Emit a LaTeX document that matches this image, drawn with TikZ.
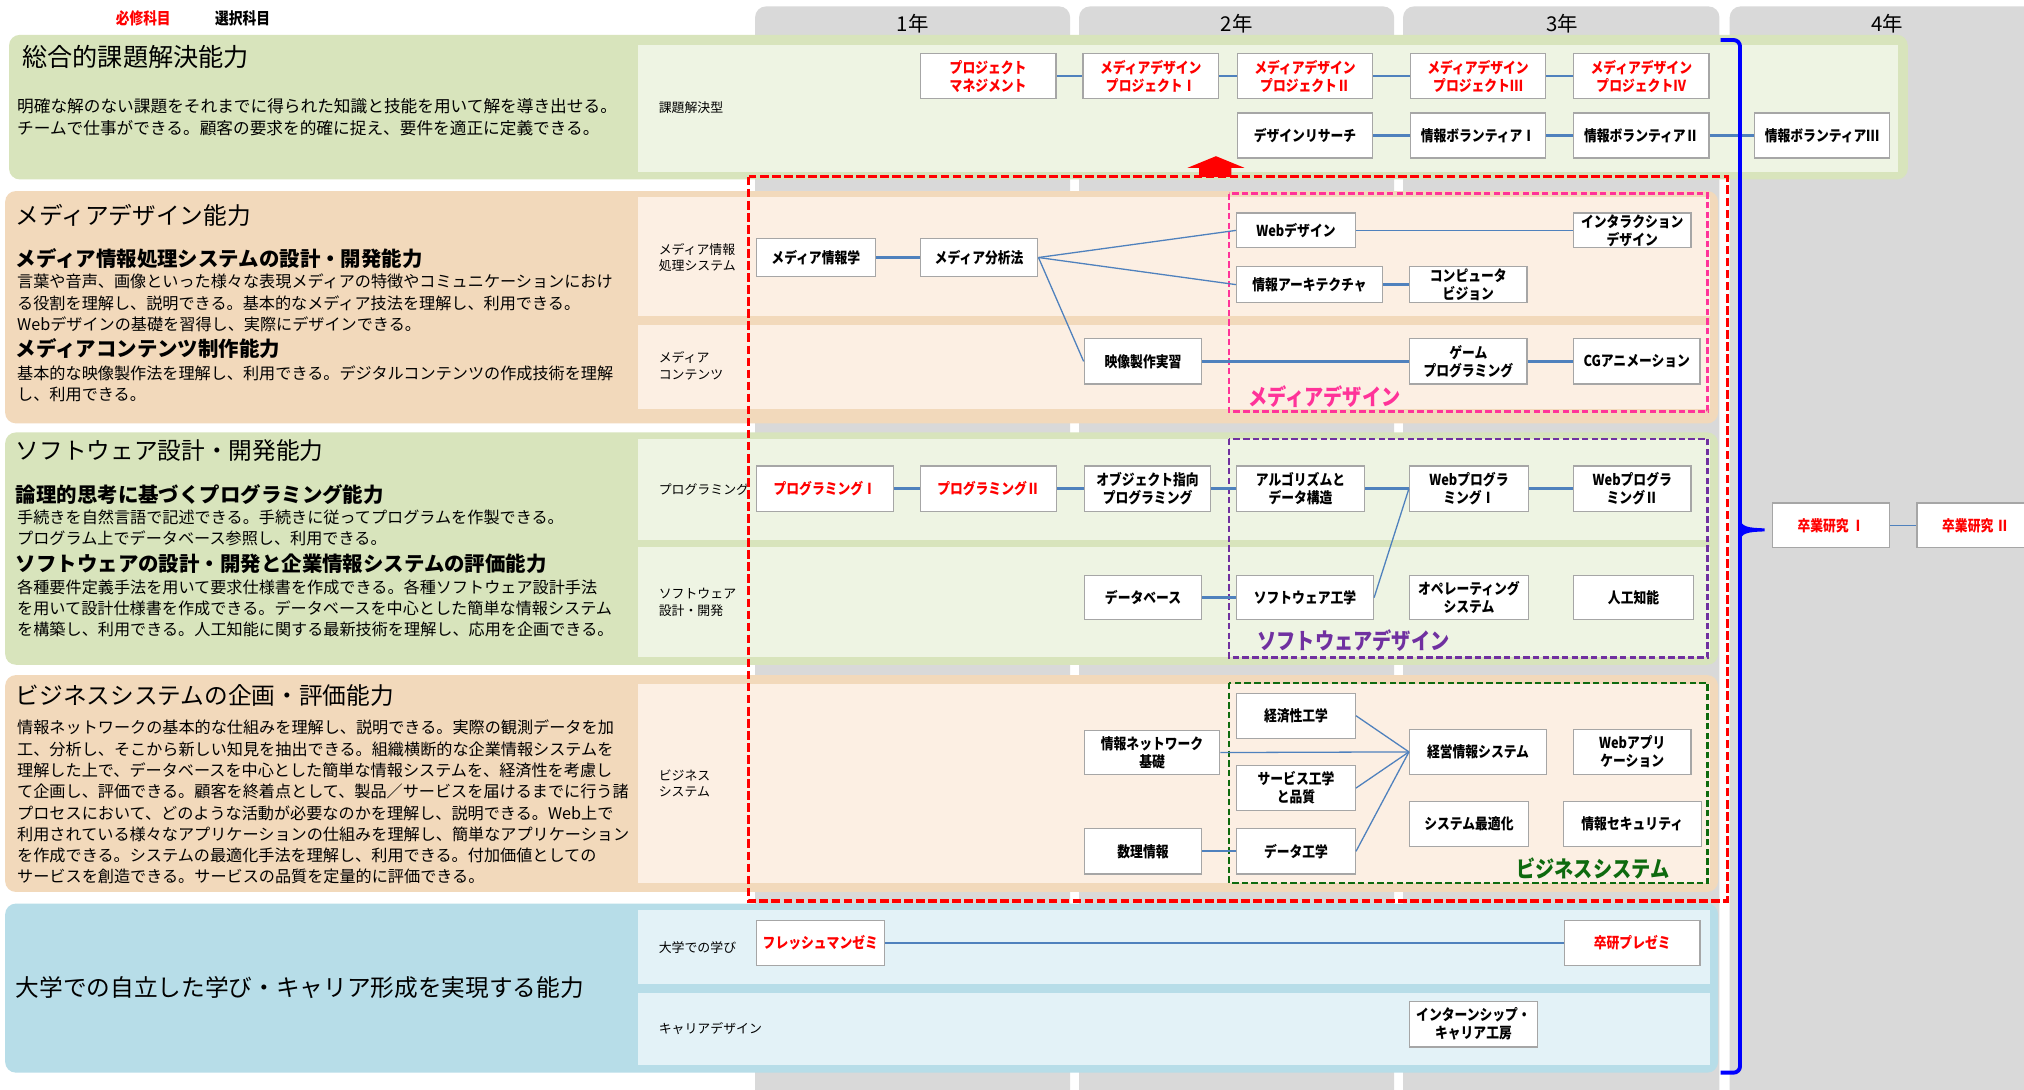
\documentclass[tikz,border=0pt]{standalone}
\usepackage{fontspec}
\setmainfont{Noto Sans CJK JP}
\newfontfamily\boxfont{Noto Sans CJK JP}[FakeStretch=0.85]
\definecolor{colgray}{HTML}{D9D9D9}
\definecolor{bandgreen}{HTML}{D8E4BC}
\definecolor{bandpeach}{HTML}{F2D9BB}
\definecolor{bandblue}{HTML}{B7DDE8}
\definecolor{subgreen}{HTML}{EEF4E3}
\definecolor{subpeach}{HTML}{FCEFE3}
\definecolor{subblue}{HTML}{E3F2F7}
\definecolor{linkblue}{HTML}{4F81BD}
\definecolor{boxgray}{HTML}{A6A6A6}
\definecolor{mdpink}{HTML}{FF3399}
\definecolor{swpurple}{HTML}{7030A0}
\definecolor{bsgreen}{HTML}{0E6A0E}
\definecolor{reqred}{HTML}{FF0000}
\definecolor{brblue}{HTML}{0000FF}
\begin{document}
\begin{tikzpicture}[x=0.6pt,y=-0.6pt,
  course/.style={draw=boxgray, line width=0.6pt, fill=white, inner sep=0pt, align=center,
     font=\boxfont\bfseries\fontsize{7}{8.4}\selectfont},
  req/.style={course, text=reqred},
  sz/.style 2 args={minimum width={#1*0.6pt}, minimum height={#2*0.6pt}},
  link/.style={draw=linkblue, line width=1.1pt},
  thinlink/.style={draw=linkblue, line width=0.6pt},
  bandtitle/.style={anchor=west, inner sep=0pt, font=\fontsize{11}{13}\selectfont},
  subtitle/.style={anchor=west, inner sep=0pt, font=\bfseries\fontsize{9.5}{11}\selectfont},
  desc/.style={anchor=west, inner sep=0pt, align=left, font=\fontsize{7.5}{9.9}\selectfont},
  sublabel/.style={anchor=west, inner sep=0pt, align=left, font=\fontsize{6}{7.8}\selectfont},
  yearlabel/.style={inner sep=0pt, font=\fontsize{9.5}{11}\selectfont},
  grouplabel/.style={inner sep=0pt, font=\boxfont\bfseries\fontsize{10.5}{12}\selectfont},
  groupbox/.style={line width=1.2pt, dash pattern=on 3pt off 1.5pt},
]
\useasboundingbox (0,0) rectangle (1568,844);
\fill[white] (0,0) rectangle (1568,844);
% year columns
\fill[colgray, rounded corners=5pt] (585,5) rectangle (829,860);
\fill[colgray, rounded corners=5pt] (836,5) rectangle (1080,860);
\fill[colgray, rounded corners=5pt] (1087,5) rectangle (1332,860);
\fill[colgray, rounded corners=5pt] (1340,5) rectangle (1600,860);
\node[yearlabel] (y1) at (707,18) {1年};
\node[yearlabel] (y2) at (958,18) {2年};
\node[yearlabel] (y3) at (1210,18) {3年};
\node[yearlabel] (y4) at (1462,18) {4年};
% legend
\node[inner sep=0pt, text=reqred, font=\boxfont\bfseries\fontsize{7.5}{9}\selectfont] (legreq) at (111,14) {必修科目};
\node[inner sep=0pt, font=\boxfont\bfseries\fontsize{7.5}{9}\selectfont] (legsel) at (188,14) {選択科目};
% bands
\fill[bandgreen, rounded corners=5pt] (7,27) rectangle (1478,139);
\fill[bandpeach, rounded corners=5pt] (4,148) rectangle (1331,328);
\fill[bandgreen, rounded corners=5pt] (4,335) rectangle (1331,515);
\fill[bandpeach, rounded corners=5pt] (4,523) rectangle (1331,691);
\fill[bandblue, rounded corners=5pt] (4,700) rectangle (1331,831);
% sub-bands
\fill[subgreen] (494,35) rectangle (1470,133);
\fill[subpeach] (494,153) rectangle (1325,245);
\fill[subpeach] (494,252) rectangle (1325,317);
\fill[subgreen] (494,340) rectangle (1325,418);
\fill[subgreen] (494,424) rectangle (1325,509);
\fill[subpeach] (494,530) rectangle (1325,684);
\fill[subblue] (494,705) rectangle (1325,762);
\fill[subblue] (494,769) rectangle (1325,825);
% sub-band labels
\node[sublabel] (lb1) at (510,83) {課題解決型};
\node[sublabel] (lb2) at (510,199.5) {メディア情報\\処理システム};
\node[sublabel] (lb3) at (510,283.5) {メディア\\コンテンツ};
\node[sublabel] (lb4) at (510,379) {プログラミング};
\node[sublabel] (lb5) at (510,466.5) {ソフトウェア\\設計・開発};
\node[sublabel] (lb6) at (510,607) {ビジネス\\システム};
\node[sublabel] (lb7) at (510,734) {大学での学び};
\node[sublabel] (lb8) at (510,797) {キャリアデザイン};
% band texts
\node[bandtitle, font=\fontsize{11.7}{13}\selectfont] (t1) at (17,44) {総合的課題解決能力};
\node[desc, font=\fontsize{7.75}{10.2}\selectfont] (d1) at (13,90.5) {明確な解のない課題をそれまでに得られた知識と技能を用いて解を導き出せる。\\チームで仕事ができる。顧客の要求を的確に捉え、要件を適正に定義できる。};
\node[bandtitle] (t2) at (12,167) {メディアデザイン能力};
\node[subtitle] (s21) at (12,200) {メディア情報処理システムの設計・開発能力};
\node[desc] (d21) at (13,234.7) {言葉や音声、画像といった様々な表現メディアの特徴やコミュニケーションにおけ\\る役割を理解し、説明できる。基本的なメディア技法を理解し、利用できる。\\Webデザインの基礎を習得し、実際にデザインできる。};
\node[subtitle] (s22) at (12,270) {メディアコンテンツ制作能力};
\node[desc] (d22) at (13,297.5) {基本的な映像製作法を理解し、利用できる。デジタルコンテンツの作成技術を理解\\し、利用できる。};
\node[bandtitle] (t3) at (12,349) {ソフトウェア設計・開発能力};
\node[subtitle] (s31) at (12,383) {論理的思考に基づくプログラミング能力};
\node[desc] (d31) at (13,409) {手続きを自然言語で記述できる。手続きに従ってプログラムを作製できる。\\プログラム上でデータベース参照し、利用できる。};
\node[subtitle] (s32) at (12,437) {ソフトウェアの設計・開発と企業情報システムの評価能力};
\node[desc] (d32) at (13,471.3) {各種要件定義手法を用いて要求仕様書を作成できる。各種ソフトウェア設計手法\\を用いて設計仕様書を作成できる。データベースを中心とした簡単な情報システム\\を構築し、利用できる。人工知能に関する最新技術を理解し、応用を企画できる。};
\node[bandtitle] (t4) at (12,539) {ビジネスシステムの企画・評価能力};
\node[desc] (d4) at (13,621.5) {情報ネットワークの基本的な仕組みを理解し、説明できる。実際の観測データを加\\工、分析し、そこから新しい知見を抽出できる。組織横断的な企業情報システムを\\理解した上で、データベースを中心とした簡単な情報システムを、経済性を考慮し\\て企画し、評価できる。顧客を終着点として、製品／サービスを届けるまでに行う諸\\プロセスにおいて、どのような活動が必要なのかを理解し、説明できる。Web上で\\利用されている様々なアプリケーションの仕組みを理解し、簡単なアプリケーション\\を作成できる。システムの最適化手法を理解し、利用できる。付加価値としての\\サービスを創造できる。サービスの品質を定量的に評価できる。};
\node[bandtitle] (t5) at (12,765) {大学での自立した学び・キャリア形成を実現する能力};
% group boxes
\draw[groupbox, mdpink] (952,150) rectangle (1323,319);
\draw[groupbox, swpurple] (952,340) rectangle (1323,509.5);
\draw[groupbox, bsgreen] (952,529) rectangle (1323,684);
\node[grouplabel, text=mdpink] (g1) at (1026,307) {メディアデザイン};
\node[grouplabel, text=swpurple] (g2) at (1048.5,496) {ソフトウェアデザイン};
\node[grouplabel, text=bsgreen] (g3) at (1234,672.5) {ビジネスシステム};
% courses band 1
\node[req, sz={105}{35}] (pm) at (765.5,59) {プロジェクト\\マネジメント};
\node[req, sz={105}{35}] (mdp1) at (891.5,59) {メディアデザイン\\プロジェクトⅠ};
\node[req, sz={105}{35}] (mdp2) at (1011,59) {メディアデザイン\\プロジェクトⅡ};
\node[req, sz={105}{35}] (mdp3) at (1145,59) {メディアデザイン\\プロジェクトⅢ};
\node[req, sz={105}{35}] (mdp4) at (1271.5,59) {メディアデザイン\\プロジェクトⅣ};
\node[course, sz={105}{35}] (dr) at (1011,105) {デザインリサーチ};
\node[course, sz={105}{35}] (vol1) at (1145,105) {情報ボランティアⅠ};
\node[course, sz={105}{35}] (vol2) at (1271.5,105) {情報ボランティアⅡ};
\node[course, sz={105}{35}] (vol3) at (1411.5,105) {情報ボランティアⅢ};
% band 2
\node[course, sz={92}{29}] (mi) at (632,199.5) {メディア情報学};
\node[course, sz={91}{29}] (ma) at (758.5,199.5) {メディア分析法};
\node[course, sz={92}{27}] (web) at (1004,178.5) {Webデザイン};
\node[course, sz={91}{27}] (ixd) at (1264.5,178.5) {インタラクション\\デザイン};
\node[course, sz={113}{28}] (ia) at (1014.5,220.5) {情報アーキテクチャ};
\node[course, sz={91}{28}] (cv) at (1137.5,220.5) {コンピュータ\\ビジョン};
\node[course, sz={91}{35}] (video) at (885.5,280) {映像製作実習};
\node[course, sz={91}{35}] (game) at (1137.5,280) {ゲーム\\プログラミング};
\node[course, sz={98}{35}] (cg) at (1268,280) {CGアニメーション};
% band 3
\node[req, sz={106}{35}] (p1) at (639,378.5) {プログラミングⅠ};
\node[req, sz={105}{35}] (p2) at (765.75,378.5) {プログラミングⅡ};
\node[course, sz={98}{35}] (oop) at (889,378.5) {オブジェクト指向\\プログラミング};
\node[course, sz={99}{35}] (algo) at (1007.5,378.5) {アルゴリズムと\\データ構造};
\node[course, sz={92}{35}] (wp1) at (1138,378.5) {Webプログラ\\ミングⅠ};
\node[course, sz={91}{35}] (wp2) at (1264.5,378.5) {Webプログラ\\ミングⅡ};
\node[course, sz={91}{34}] (db) at (885.5,463) {データベース};
\node[course, sz={106}{34}] (se) at (1011,463) {ソフトウェア工学};
\node[course, sz={92}{34}] (os) at (1138,463) {オペレーティング\\システム};
\node[course, sz={93}{34}] (ai) at (1265.5,463) {人工知能};
% band 4
\node[course, sz={92}{35}] (econ) at (1004,554.5) {経済性工学};
\node[course, sz={105}{34}] (net) at (892.5,583) {情報ネットワーク\\基礎};
\node[course, sz={92}{35}] (serv) at (1004,610.5) {サービス工学\\と品質};
\node[course, sz={91}{35}] (math) at (885.5,659.5) {数理情報};
\node[course, sz={92}{35}] (de) at (1004,659.5) {データ工学};
\node[course, sz={106}{35}] (mis) at (1145,582.5) {経営情報システム};
\node[course, sz={91}{35}] (webapp) at (1264.5,582.5) {Webアプリ\\ケーション};
\node[course, sz={92}{35}] (opt) at (1138,638.5) {システム最適化};
\node[course, sz={107}{35}] (sec) at (1264.5,638.5) {情報セキュリティ};
% band 5
\node[req, sz={99}{35}] (fresh) at (635.5,730.5) {フレッシュマンゼミ};
\node[req, sz={105}{35}] (presemi) at (1264.5,730.5) {卒研プレゼミ};
\node[course, sz={99}{35}] (intern) at (1141.5,793.5) {インターンシップ・\\キャリア工房};
% 4th year
\node[req, sz={91}{34.5}] (sr1) at (1418.5,407) {卒業研究 Ⅰ};
\node[req, sz={91}{34.5}] (sr2) at (1530.5,407) {卒業研究 Ⅱ};
% connectors
\draw[link] (pm) -- (mdp1);
\draw[link] (mdp1) -- (mdp2);
\draw[link] (mdp2) -- (mdp3);
\draw[link] (mdp3) -- (mdp4);
\draw[link] (dr) -- (vol1);
\draw[link] (vol1) -- (vol2);
\draw[link] (vol2) -- (vol3);
\draw[link] (mi) -- (ma);
\draw[thinlink] (ma.east) -- (web.west);
\draw[thinlink] (ma.east) -- (ia.west);
\draw[thinlink] (ma.east) -- (video.west);
\draw[thinlink] (web) -- (ixd);
\draw[link] (ia) -- (cv);
\draw[link] (video) -- (game);
\draw[link] (game) -- (cg);
\draw[link] (p1) -- (p2);
\draw[link] (p2) -- (oop);
\draw[link] (oop) -- (algo);
\draw[link] (algo) -- (wp1);
\draw[link] (wp1) -- (wp2);
\draw[link] (db) -- (se);
\draw[thinlink] (se.east) -- (wp1.west);
\draw[thinlink] (econ.east) -- (mis.west);
\draw[thinlink] (net.east) -- (mis.west);
\draw[thinlink] (serv.east) -- (mis.west);
\draw[thinlink] (de.east) -- (mis.west);
\draw[link] (math) -- (de);
\draw[thinlink] (fresh) -- (presemi);
\draw[thinlink] (sr1) -- (sr2);
% red frame and arrow
\draw[reqred, line width=1.5pt, dash pattern=on 4pt off 1.6pt] (580,137) rectangle (1338,698);
\fill[reqred] (942,121) -- (964,130) -- (954,130) -- (954,137) -- (929,137) -- (929,130) -- (920,130) -- cycle;
% blue bracket
\draw[brblue, line width=1.8pt, rounded corners=3pt] (1333,31) -- (1348,31) -- (1348,831) -- (1333,831);
\fill[brblue] (1348,402) .. controls (1349,408) and (1354,409) .. (1367,409.3) -- (1367,411.7) .. controls (1354,412) and (1349,413) .. (1348,419) -- cycle;
\end{tikzpicture}
\end{document}
